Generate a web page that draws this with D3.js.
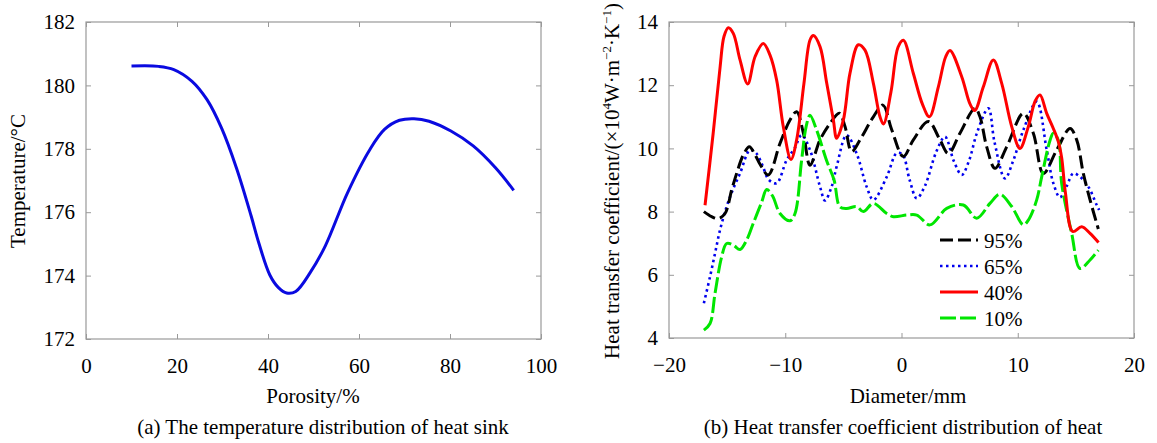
<!DOCTYPE html>
<html lang="en">
  <head>
    <meta charset="UTF-8" />
    <title>Heat sink porosity charts</title>
    <script src="https://cdn.jsdelivr.net/npm/d3@7"></script>
    <style>
      body { margin: 0; background: #fff; }
      text { font-family: "Liberation Serif", "Times New Roman", serif; fill: #000; }
      .tick line { stroke: #999; }
    </style>
  </head>
  <body>
    <svg id="chart" width="1157" height="443"></svg>

    <script>
      // (a) temperature vs porosity
      var porosity = [10, 16, 19.3, 23.3, 26.6, 29.8, 33.1, 36.3, 38, 40.4, 42.3, 44.1, 46.1, 49.3, 52.6, 57.5, 62.4, 65.6, 68.9, 72.1, 75.4, 80.2, 85.1, 90, 94];
      var temperature = [180.61, 180.6, 180.5, 180.13, 179.55, 178.65, 177.38, 175.88, 175.02, 174.02, 173.62, 173.45, 173.5, 174.1, 174.94, 176.62, 177.98, 178.61, 178.9, 178.95, 178.87, 178.56, 178.09, 177.4, 176.69];
      var porosityTicks = [0, 20, 40, 60, 80, 100];
      var tempTicks = [172, 174, 176, 178, 180, 182];

      // (b) heat transfer coefficient vs diameter, one series per porosity
      var seriesNames = ["95%", "65%", "40%", "10%"];
      var seriesColors = ["#000000", "#0000ee", "#ff0000", "#00e600"];
      var seriesDash = ["13,5", "2.5,3.5", null, "16,4"];

      var x95 = [-17, -16.33, -15.76, -15.18, -14.6, -14.18, -13.6, -13.09, -12.6, -12.17, -11.46, -10.45, -9.59, -9.02, -8.44, -7.87, -7.01, -6.15, -5.35, -4.86, -4.29, -3.57, -2.42, -1.6, -0.85, 0.16, 1.02, 2.31, 3.31, 4.03, 5.03, 6.32, 6.75, 7.33, 8.04, 9.05, 10.48, 11.34, 12.2, 13.35, 14.5, 15.07, 15.64, 16.22, 16.93];
      var y95 = [8.0, 7.84, 7.78, 7.94, 8.7, 9.21, 9.8, 10.05, 9.8, 9.5, 9.16, 10.16, 10.9, 11.16, 10.48, 9.47, 10.27, 10.79, 11.11, 10.69, 9.9, 10.27, 11.0, 11.37, 10.6, 9.74, 10.27, 10.85, 10.27, 9.84, 10.48, 11.27, 11.0, 10.05, 9.37, 10.05, 11.11, 10.48, 9.21, 9.95, 10.63, 10.27, 9.21, 8.37, 7.45];

      var x65 = [-17, -16.47, -16.04, -15.61, -15.04, -14.5, -13.89, -13.03, -12.5, -12.0, -11.4, -10.74, -9.88, -9.2, -8.59, -7.87, -7.01, -6.58, -6.0, -5.58, -4.72, -3.86, -3.0, -2.42, -1.27, -0.41, 0.1, 0.7, 1.31, 2.0, 3.0, 3.74, 4.5, 5.18, 5.8, 6.5, 7.47, 8.0, 8.9, 9.6, 10.5, 11.63, 12.49, 13.06, 13.63, 14.2, 14.78, 15.36, 16.07, 16.79, 17];
      var y65 = [5.1, 5.94, 6.68, 7.42, 8.16, 8.7, 9.21, 9.95, 9.85, 9.5, 9.0, 8.9, 9.63, 10.0, 10.42, 9.95, 8.79, 8.35, 8.8, 9.42, 10.42, 9.84, 8.79, 8.37, 9.1, 9.85, 9.8, 9.0, 8.42, 8.8, 9.9, 10.37, 9.6, 9.16, 9.6, 10.5, 11.27, 10.2, 9.05, 9.6, 10.6, 11.48, 9.95, 8.9, 8.45, 8.8, 9.21, 9.1, 8.79, 8.21, 8.05];

      var x40 = [-16.9, -16.2, -15.6, -15.27, -14.9, -14.47, -13.89, -13.23, -12.6, -11.89, -11.31, -10.74, -10.17, -9.51, -9.02, -8.39, -7.87, -7.58, -7.01, -6.43, -5.86, -5.58, -5.0, -4.43, -3.71, -3.14, -2.42, -1.85, -1.55, -0.9, -0.3, 0.16, 1.02, 1.8, 2.4, 3.17, 3.8, 4.17, 5.18, 5.9, 6.3, 7.04, 7.9, 8.62, 9.48, 10.19, 10.91, 11.5, 11.91, 12.49, 13.06, 13.5, 13.78, 14.1, 14.73, 15.5, 16.22, 16.95];
      var y40 = [8.2, 10.48, 12.59, 13.54, 13.82, 13.64, 12.8, 12.04, 12.9, 13.32, 12.95, 12.16, 10.69, 9.65, 10.27, 12.06, 13.43, 13.57, 13.22, 12.06, 10.9, 10.32, 10.9, 12.38, 13.28, 13.11, 12.06, 11.0, 10.77, 11.8, 13.2, 13.42, 12.37, 11.4, 11.0, 11.95, 12.9, 13.1, 12.27, 11.4, 11.2, 11.95, 12.8, 12.06, 10.69, 10.0, 10.69, 11.5, 11.69, 11.11, 10.63, 10.2, 9.7, 8.6, 7.37, 7.52, 7.31, 7.02];

      var x10 = [-17, -16.47, -16.04, -15.47, -15.04, -14.47, -13.89, -13.32, -12.75, -12.03, -11.6, -11.1, -10.45, -9.59, -9.16, -8.6, -8.2, -7.87, -7.3, -6.43, -5.8, -5.3, -4.72, -3.86, -3.28, -2.42, -1.27, -0.7, 0.45, 1.31, 2.45, 3.89, 5.32, 6.47, 7.61, 8.47, 9.48, 10.48, 10.91, 11.63, 12.06, 12.78, 13.06, 13.49, 13.78, 14.64, 15.36, 16.22, 16.93];
      var y10 = [4.25, 4.46, 5.41, 6.57, 6.99, 6.94, 6.8, 7.1, 7.63, 8.3, 8.7, 8.5, 7.94, 7.71, 7.94, 9.6, 10.7, 11.05, 10.58, 9.6, 9.0, 8.15, 8.1, 8.16, 8.0, 8.26, 7.94, 7.84, 7.89, 7.89, 7.58, 8.1, 8.21, 7.79, 8.26, 8.55, 8.16, 7.58, 7.73, 8.37, 9.1, 10.26, 10.48, 10.26, 8.89, 7.31, 6.2, 6.47, 6.78];

      var diameterTicks = [-20, -10, 0, 10, 20];
      var htcTicks = [4, 6, 8, 10, 12, 14];

      var svg = d3.select("#chart");
      svg.append("rect").attr("width", 1157).attr("height", 443).attr("fill", "#fff");

      function zip(xs, ys) {
        return xs.map(function(v, i) { return [v, ys[i]]; });
      }

      // draws the framed box with inward ticks on all four sides
      function drawFrame(g, xScale, yScale, xTicks, yTicks) {
        var w = xScale.range()[1] - xScale.range()[0];
        var h = yScale.range()[0] - yScale.range()[1];

        g.append("rect")
          .attr("x", xScale.range()[0]).attr("y", yScale.range()[1])
          .attr("width", w).attr("height", h)
          .attr("fill", "none").attr("stroke", "#999").attr("stroke-width", 1.2);

        var bottom = g.append("g")
          .attr("transform", "translate(0," + yScale.range()[0] + ")")
          .call(d3.axisBottom(xScale).tickValues(xTicks).tickSizeInner(-5).tickSizeOuter(0).tickPadding(19)
            .tickFormat(function(d) { return d < 0 ? "\u2212" + Math.abs(d) : d; }));
        var left = g.append("g")
          .attr("transform", "translate(" + xScale.range()[0] + ",0)")
          .call(d3.axisLeft(yScale).tickValues(yTicks).tickSizeInner(-5).tickSizeOuter(0).tickPadding(11));
        var top = g.append("g")
          .attr("transform", "translate(0," + yScale.range()[1] + ")")
          .call(d3.axisTop(xScale).tickValues(xTicks).tickSizeInner(-5).tickSizeOuter(0).tickFormat(""));
        var right = g.append("g")
          .attr("transform", "translate(" + xScale.range()[1] + ",0)")
          .call(d3.axisRight(yScale).tickValues(yTicks).tickSizeInner(-5).tickSizeOuter(0).tickFormat(""));

        [bottom, left, top, right].forEach(function(a) {
          a.select(".domain").remove();
          a.selectAll("text")
            .attr("font-family", "Liberation Serif, Times New Roman, serif")
            .attr("font-size", 21).attr("fill", "#000");
        });
      }

      // ---------- panel (a) ----------
      var ax = d3.scaleLinear().domain([0, 100]).range([86, 541]);
      var ay = d3.scaleLinear().domain([172, 182]).range([339, 22]);
      var ga = svg.append("g");
      drawFrame(ga, ax, ay, porosityTicks, tempTicks);

      ga.append("path")
        .datum(zip(porosity, temperature))
        .attr("fill", "none")
        .attr("stroke", "#0a0ae0")
        .attr("stroke-width", 3)
        .attr("stroke-linejoin", "round")
        .attr("d", d3.line()
          .x(function(d) { return ax(d[0]); })
          .y(function(d) { return ay(d[1]); })
          .curve(d3.curveCatmullRom.alpha(0.5)));

      ga.append("text")
        .attr("transform", "translate(25,181) rotate(-90)")
        .attr("text-anchor", "middle").attr("font-size", 21)
        .text("Temperature/\u00b0C");
      ga.append("text")
        .attr("x", 313).attr("y", 403)
        .attr("text-anchor", "middle").attr("font-size", 21)
        .text("Porosity/%");
      ga.append("text")
        .attr("x", 323).attr("y", 434)
        .attr("text-anchor", "middle").attr("font-size", 21)
        .text("(a) The temperature distribution of heat sink");

      // ---------- panel (b) ----------
      var bx = d3.scaleLinear().domain([-20, 20]).range([669, 1134]);
      var by = d3.scaleLinear().domain([4, 14]).range([338, 22]);
      var gb = svg.append("g");
      drawFrame(gb, bx, by, diameterTicks, htcTicks);

      var series = [zip(x95, y95), zip(x65, y65), zip(x40, y40), zip(x10, y10)];
      var line = d3.line()
        .x(function(d) { return bx(d[0]); })
        .y(function(d) { return by(d[1]); })
        .curve(d3.curveCatmullRom.alpha(0.5));

      var drawOrder = [1, 0, 3, 2];
      drawOrder.forEach(function(i) {
        gb.append("path")
          .datum(series[i])
          .attr("fill", "none")
          .attr("stroke", seriesColors[i])
          .attr("stroke-width", i == 1 ? 2.6 : 3)
          .attr("stroke-dasharray", seriesDash[i])
          .attr("stroke-linejoin", "round")
          .attr("d", line);
      });

      // legend
      var legend = gb.selectAll(".legend")
        .data(seriesNames)
        .enter()
        .append("g")
        .attr("class", "legend")
        .attr("transform", function(d, i) { return "translate(940," + (240 + i * 26) + ")"; });
      legend.append("line")
        .attr("x1", 0).attr("x2", 38)
        .attr("stroke", function(d, i) { return seriesColors[i]; })
        .attr("stroke-width", function(d, i) { return i == 1 ? 2.6 : 3; })
        .attr("stroke-dasharray", function(d, i) { return seriesDash[i]; });
      legend.append("text")
        .attr("x", 44).attr("y", 8)
        .attr("font-size", 21)
        .text(function(d) { return d; });

      var yl = gb.append("text")
        .attr("transform", "translate(619,181) rotate(-90)")
        .attr("text-anchor", "middle").attr("font-size", 21);
      yl.append("tspan").text("Heat transfer coefficient/(\u00d710");
      yl.append("tspan").attr("font-size", 13).attr("dy", -8).text("4");
      yl.append("tspan").attr("dy", 8).text("W\u00b7m");
      yl.append("tspan").attr("font-size", 13).attr("dy", -8).text("\u22122");
      yl.append("tspan").attr("dy", 8).text("\u00b7K");
      yl.append("tspan").attr("font-size", 13).attr("dy", -8).text("\u22121");
      yl.append("tspan").attr("dy", 8).text(")");

      gb.append("text")
        .attr("x", 908).attr("y", 403)
        .attr("text-anchor", "middle").attr("font-size", 21)
        .text("Diameter/mm");
      gb.append("text")
        .attr("x", 903).attr("y", 434)
        .attr("text-anchor", "middle").attr("font-size", 21)
        .text("(b) Heat transfer coefficient distribution of heat");
    </script>
  </body>
</html>
